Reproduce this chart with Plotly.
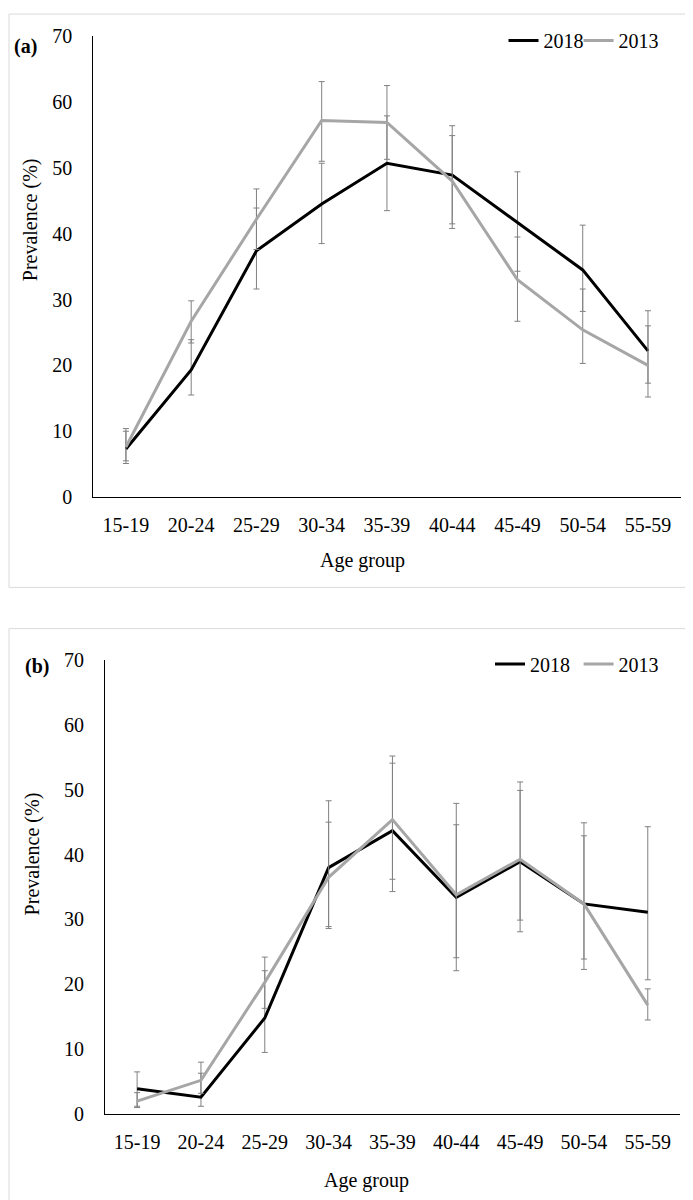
import plotly.graph_objects as go

# age groups on the x axis
age_groups = ["15-19", "20-24", "25-29", "30-34", "35-39", "40-44", "45-49", "50-54", "55-59"]

# panel (a) prevalence (%) and CI bounds
a_2018 = [7.3, 19.3, 37.4, 44.5, 50.7, 48.9, 41.7, 34.5, 22.2]
a_2018_lo = [5.5, 15.5, 31.6, 38.5, 43.5, 41.5, 34.3, 28.2, 17.3]
a_2018_hi = [10.0, 23.9, 43.9, 50.7, 57.9, 56.4, 49.4, 41.3, 28.3]
a_2013 = [7.6, 26.7, 42.2, 57.2, 56.9, 48.0, 33.0, 25.4, 20.0]
a_2013_lo = [5.1, 23.4, 37.6, 51.0, 51.3, 40.8, 26.7, 20.3, 15.2]
a_2013_hi = [10.4, 29.8, 46.8, 63.1, 62.5, 54.9, 39.5, 31.6, 26.0]

# panel (b) prevalence (%) and CI bounds
b_2018 = [3.9, 2.6, 14.8, 38.0, 43.7, 33.4, 38.9, 32.4, 31.1]
b_2018_lo = [1.2, 1.2, 9.5, 28.9, 34.3, 22.1, 29.9, 22.3, 20.7]
b_2018_hi = [6.5, 6.3, 22.1, 48.3, 54.1, 44.6, 49.9, 42.9, 44.3]
b_2013 = [2.0, 5.2, 20.3, 36.5, 45.4, 33.8, 39.3, 32.4, 16.8]
b_2013_lo = [1.0, 3.2, 16.3, 28.6, 36.2, 24.1, 28.1, 23.9, 14.5]
b_2013_hi = [3.3, 8.0, 24.2, 45.0, 55.2, 47.9, 51.2, 44.9, 19.3]

W, H = 693, 1200
FONT = "Liberation Serif, Times New Roman, serif"
BLACK = "#000000"
GREY = "#A6A6A6"
BAR_GREY = "#808080"


def px_x(x):
    return x / W


def px_y(y):
    return 1 - y / H


def add_series(fig, y, lo, hi, name, color, xaxis, yaxis, legend):
    fig.add_trace(
        go.Scatter(
            x=age_groups,
            y=y,
            name=name,
            mode="lines",
            line=dict(color=color, width=3),
            error_y=dict(
                type="data",
                symmetric=False,
                array=[h - v for h, v in zip(hi, y)],
                arrayminus=[v - l for l, v in zip(lo, y)],
                color=BAR_GREY,
                thickness=1,
                width=3,
            ),
            xaxis=xaxis,
            yaxis=yaxis,
            legend=legend,
        )
    )


fig = go.Figure()
# one legend per entry so the spacing can follow the original
add_series(fig, a_2018, a_2018_lo, a_2018_hi, "2018", BLACK, "x", "y", "legend")
add_series(fig, a_2013, a_2013_lo, a_2013_hi, "2013", GREY, "x", "y", "legend3")
add_series(fig, b_2018, b_2018_lo, b_2018_hi, "2018", BLACK, "x2", "y2", "legend2")
add_series(fig, b_2013, b_2013_lo, b_2013_hi, "2013", GREY, "x2", "y2", "legend4")

xaxis_style = dict(
    type="category",
    range=[-0.5, 8.5],
    showline=True,
    linecolor=BLACK,
    linewidth=1.3,
    showgrid=False,
    zeroline=False,
    ticks="",
    ticklabelstandoff=10,
    tickfont=dict(family=FONT, size=20, color=BLACK),
)
yaxis_style = dict(
    range=[0, 70],
    dtick=10,
    showline=True,
    linecolor=BLACK,
    linewidth=1.3,
    showgrid=False,
    zeroline=False,
    ticks="",
    ticklabelstandoff=16,
    tickfont=dict(family=FONT, size=20, color=BLACK),
)

legend_style = dict(
    orientation="h",
    xanchor="left",
    yanchor="middle",
    font=dict(family=FONT, size=20, color=BLACK),
    bgcolor="rgba(0,0,0,0)",
    itemwidth=30,
)

fig.update_layout(
    width=W,
    height=H,
    margin=dict(l=0, r=0, t=0, b=0),
    paper_bgcolor="white",
    plot_bgcolor="white",
    xaxis=dict(xaxis_style, domain=[px_x(85.3), px_x(672.6)], anchor="y"),
    yaxis=dict(yaxis_style, domain=[px_y(487), px_y(17.5)], anchor="x"),
    xaxis2=dict(xaxis_style, domain=[px_x(97.2), px_x(671.7)], anchor="y2"),
    yaxis2=dict(yaxis_style, domain=[px_y(1115.5), px_y(653)], anchor="x2"),
    legend=dict(legend_style, x=px_x(495.5), y=px_y(22)),
    legend3=dict(legend_style, x=px_x(570.6), y=px_y(22)),
    legend2=dict(legend_style, x=px_x(482), y=px_y(657)),
    legend4=dict(legend_style, x=px_x(570.6), y=px_y(657)),
    showlegend=True,
)

# light frames around each panel
fig.add_shape(type="rect", xref="paper", yref="paper",
              x0=px_x(1), x1=px_x(692), y0=px_y(579), y1=px_y(-5),
              line=dict(color="#D9D9D9", width=1))
fig.add_shape(type="rect", xref="paper", yref="paper",
              x0=px_x(1), x1=px_x(690), y0=px_y(1205), y1=px_y(621),
              line=dict(color="#D9D9D9", width=1))

texts = [
    ("<b>(a)</b>", 17, 28, 0),
    ("<b>(b)</b>", 29, 660, 0),
    ("Prevalence (%)", 22, 205, -90),
    ("Prevalence (%)", 24, 851, -90),
    ("Age group", 354, 552, 0),
    ("Age group", 358.6, 1183, 0),
]
for text, x, y, angle in texts:
    fig.add_annotation(
        text=text, x=px_x(x), y=px_y(y), xref="paper", yref="paper",
        showarrow=False, textangle=angle, xanchor="center", yanchor="middle",
        font=dict(family=FONT, size=20, color=BLACK),
    )

fig.write_html("out.html")
